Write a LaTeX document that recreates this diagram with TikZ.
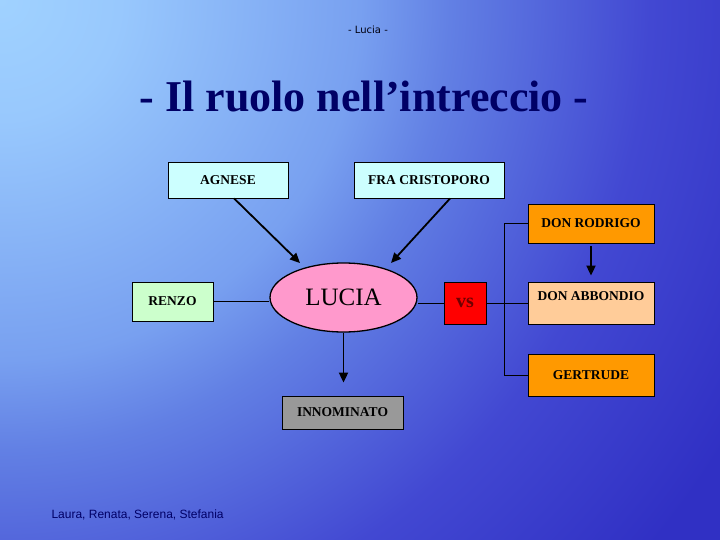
\documentclass[tikz,border=0pt]{standalone}
\usepackage{fontspec}
\setmainfont{Liberation Serif}
\newfontfamily\arialf{Liberation Sans}
\newfontfamily\dejaf{DejaVu Sans}
\usetikzlibrary{shapes.geometric,arrows.meta,calc}
\definecolor{bgA}{RGB}{160,210,255}
\definecolor{bgB}{RGB}{152,200,253}
\definecolor{bgC}{RGB}{120,160,240}
\definecolor{bgD}{RGB}{98,128,228}
\definecolor{bgE}{RGB}{66,72,210}
\definecolor{bgF}{RGB}{48,48,196}
\pgfdeclareradialshading{bgrad}{\pgfpoint{0bp}{0bp}}{color(0bp)=(bgA); color(3bp)=(bgB); color(9bp)=(bgC); color(11.25bp)=(bgD); color(16.25bp)=(bgE); color(21.25bp)=(bgF); color(50bp)=(bgF)}
\definecolor{navy}{RGB}{0,0,102}
\definecolor{cyanbox}{RGB}{204,255,255}
\definecolor{greenbox}{RGB}{204,255,204}
\definecolor{orangebox}{RGB}{255,153,0}
\definecolor{peachbox}{RGB}{255,204,153}
\definecolor{pinkbox}{RGB}{255,153,204}
\definecolor{graybox}{RGB}{153,153,153}
\definecolor{redbox}{RGB}{255,0,0}
\definecolor{darkred}{RGB}{110,0,0}
\begin{document}
\begin{tikzpicture}[x=1pt,y=-1pt,
  box/.style={draw=black, line width=0.8pt, inner sep=0pt, font=\bfseries\fontsize{13.5}{16}\selectfont},
  link/.style={draw=black, line width=0.9pt},
  arr/.style={draw=black, line width=1.8pt, -{Triangle[length=10pt,width=9pt]}}]
\useasboundingbox (0,0) rectangle (720,540);
\begin{scope}
\clip (0,0) rectangle (720,540);
\shade[shading=bgrad] (0,0) circle (1000);
\end{scope}

\node[font=\dejaf\fontsize{10}{12}\selectfont, text=black!85!navy] (hdr) at (368,30) {- Lucia -};
\node[font=\bfseries\fontsize{44}{50}\selectfont, text=navy] (title) at (364,97) {- Il ruolo nell’intreccio -};

\node[box, fill=cyanbox, minimum width=120, minimum height=36] (agnese) at (228,180) {AGNESE};
\node[box, fill=cyanbox, minimum width=150, minimum height=36] (fra) at (429,180) {FRA CRISTOPORO};
\node[box, fill=orangebox, minimum width=126, minimum height=39] (rodrigo) at (591,223.5) {DON RODRIGO};
\node[box, fill=peachbox, minimum width=126, minimum height=42, text height=10pt, text depth=15pt] (abbondio) at (591,303) {DON ABBONDIO};
\node[box, fill=orangebox, minimum width=126, minimum height=42] (gertrude) at (591,375) {GERTRUDE};
\node[box, fill=greenbox, minimum width=81, minimum height=39] (renzo) at (172.5,301.5) {RENZO};
\node[ellipse, draw=black, line width=1.3pt, fill=pinkbox, inner sep=0pt, minimum width=147, minimum height=69, font=\fontsize{25}{28}\selectfont] (lucia) at (343.5,297.5) {LUCIA};
\node[box, fill=redbox, minimum width=42, minimum height=42, font=\bfseries\fontsize{20}{22}\selectfont, text=darkred] (vs) at (465,303) {vs};
\node[box, fill=graybox, minimum width=121, minimum height=33] (innominato) at (342.5,412.5) {INNOMINATO};

\node[font=\arialf\fontsize{12}{14}\selectfont, text=navy, anchor=west] (authors) at (48,515) {Laura, Renata, Serena, Stefania};

\coordinate (busx) at (504,0);
\coordinate (tipL) at (300,263);
\coordinate (tipR) at (391,263);

\draw[link] (renzo.east) -- (lucia.west |- renzo.east);
\draw[link] (vs.west) -- (vs.west -| lucia.east);
\draw[link] (vs.east) -- (vs.east -| abbondio.west);
\draw[link] (rodrigo.west) -- (rodrigo.west -| busx) -- (gertrude.west -| busx) -- (gertrude.west);

\draw[arr] ($(agnese.south west)!0.55!(agnese.south east)$) -- (tipL);
\draw[arr] ($(fra.south west)!0.64!(fra.south east)$) -- (tipR);
\draw[arr, shorten <=3pt, shorten >=6pt] (rodrigo.south) -- (abbondio.north);
\draw[arr, shorten >=13pt] (lucia.south) -- (lucia.south |- innominato.north);
\end{tikzpicture}
\end{document}
